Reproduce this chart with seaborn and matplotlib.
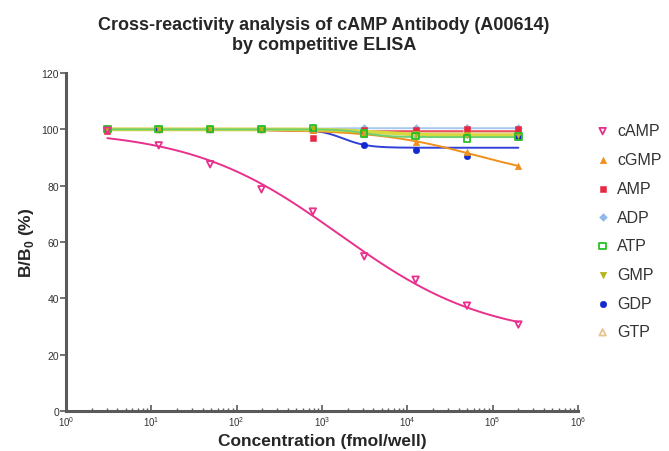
import matplotlib
matplotlib.use("Agg")
import matplotlib.pyplot as plt
import matplotlib.ticker as mticker
import numpy as np
import pandas as pd
import seaborn as sns

# concentrations (fmol/well), 4-fold dilution series
conc = [3.05, 12.2, 48.8, 195.3, 781.3, 3125, 12500, 50000, 200000]

series_names = ["cAMP", "cGMP", "AMP", "ADP", "ATP", "GMP", "GDP", "GTP"]

camp = [99.5, 94.3, 87.6, 78.7, 70.8, 54.9, 46.6, 37.4, 30.7]
cgmp = [100.0, 100.0, 100.0, 100.0, 99.6, 98.2, 95.4, 91.8, 87.0]
amp = [99.5, 100.0, 100.0, 100.0, 96.9, 99.8, 99.9, 100.0, 100.0]
adp = [100.0, 100.0, 100.0, 100.0, 100.2, 100.5, 100.3, 100.4, 100.4]
atp = [100.2, 100.2, 100.2, 100.2, 100.5, 98.6, 97.6, 96.8, 97.4]
gmp = [100.0, 100.0, 100.0, 100.0, 100.0, 99.2, 98.2, 97.9, 97.9]
gdp = [100.0, 100.0, 100.0, 100.0, 99.6, 94.6, 92.6, 90.5, 97.2]
gtp = [100.0, 100.0, 100.0, 100.0, 100.0, 99.0, 97.6, 100.3, 98.0]

values = [camp, cgmp, amp, adp, atp, gmp, gdp, gtp]

colors = ["#e8308c", "#f0901c", "#e82840", "#90b8ec", "#28c028", "#b4b41c", "#1428d0", "#e8c490"]
line_colors = ["#e8308c", "#f0901c", "#e85060", "#a8c8f0", "#70d070", "#d8d840", "#3040d8", "#f0d8a8"]
markers = ["v", "^", "s", "D", "s", "v", "o", "^"]
filled = [False, True, True, True, False, True, True, False]


def fit_4pl(x, y, top=100.0):
    # top fixed at 100, grid search for ec50/hill, least squares for bottom
    lx = np.log10(np.asarray(x, float))
    y = np.asarray(y, float)
    best = None
    for c in np.linspace(0, 7, 141):
        for h in np.linspace(0.2, 3.0, 57):
            s = 1.0 / (1.0 + 10 ** ((lx - c) * h))
            a = 1 - s
            r = y - top * s
            bottom = np.dot(a, r) / max(np.dot(a, a), 1e-12)
            err = np.sum((bottom * a - r) ** 2)
            if best is None or err < best[0]:
                best = (err, c, h, bottom)
    _, c, h, bottom = best
    xs = np.logspace(lx.min(), lx.max(), 200)
    s = 1.0 / (1.0 + 10 ** ((np.log10(xs) - c) * h))
    return xs, bottom * (1 - s) + top * s


sns.set_theme(style="white")
plt.rcParams["font.family"] = ["Liberation Sans", "DejaVu Sans"]
plt.rcParams["mathtext.fontset"] = "custom"
plt.rcParams["mathtext.bf"] = "Liberation Sans:bold"
plt.rcParams["mathtext.rm"] = "Liberation Sans"

fig = plt.figure(figsize=(6.69, 4.52), dpi=100)
ax = fig.add_axes([66 / 669, 40 / 452, 512 / 669, 338 / 452])

# fitted curves first (behind the points)
draw_order = [7, 3, 2, 6, 1, 5, 4, 0]
for i in draw_order:
    xs, ys = fit_4pl(conc, values[i])
    lw = 2.6 if series_names[i] in ("GTP", "GMP") else 1.4
    sns.lineplot(x=xs, y=ys, ax=ax, color=line_colors[i], linewidth=lw, legend=False, zorder=2)

for i in draw_order:
    df = pd.DataFrame({"conc": conc, "val": values[i]})
    if filled[i]:
        kw = dict(color=colors[i], edgecolor=colors[i])
    else:
        kw = dict(facecolor="none", edgecolor=colors[i], linewidth=1.3)
    ms = 16 if markers[i] == "D" else 22
    sns.scatterplot(data=df, x="conc", y="val", ax=ax, marker=markers[i], s=ms,
                    label=series_names[i], zorder=3, **kw)

ax.set_xscale("log")
ax.set_ylim(0, 120)
ax.set_yticks(range(0, 121, 20))
ax.set_xticks([1, 10, 100, 1e3, 1e4, 1e5, 1e6])
ax.xaxis.set_minor_locator(mticker.LogLocator(base=10, subs=np.arange(2, 10), numticks=20))
ax.xaxis.set_minor_formatter(mticker.NullFormatter())
ax.set_xlim(1, 1e6)

for side in ("top", "right"):
    ax.spines[side].set_visible(False)
for side in ("left", "bottom"):
    ax.spines[side].set_color("#5a5a5a")
    ax.spines[side].set_linewidth(2.2)

ax.tick_params(axis="y", direction="out", length=4, width=1.2, color="#5a5a5a",
               labelsize=7.5, labelcolor="#333333", pad=1, left=True)
ax.tick_params(axis="x", which="major", direction="in", length=4, width=1.2, color="#5a5a5a",
               labelsize=7, labelcolor="#333333", pad=2, bottom=True)
ax.tick_params(axis="x", which="minor", direction="in", length=2.5, width=1.0, color="#5a5a5a",
               bottom=True)

ax.set_xlabel("Concentration (fmol/well)", fontsize=12.5, fontweight="bold", labelpad=4)
ax.set_ylabel("B/B$_\\mathbf{0}$ (%)", fontsize=12.5, fontweight="bold", labelpad=4)

fig.text(0.484, 0.962, "Cross-reactivity analysis of cAMP Antibody (A00614)\nby competitive ELISA",
         ha="center", va="top", fontsize=13, fontweight="bold", linespacing=1.25)

handles, labels = ax.get_legend_handles_labels()
order = [labels.index(n) for n in series_names]
leg = ax.legend([handles[k] for k in order], [labels[k] for k in order],
                loc="upper left", bbox_to_anchor=(1.02, 0.87), frameon=False,
                fontsize=11.5, labelspacing=0.86, handletextpad=0.4, handlelength=1.0,
                borderaxespad=0)
for t in leg.get_texts():
    t.set_color("#333333")

fig.savefig("out.png", dpi=100)
